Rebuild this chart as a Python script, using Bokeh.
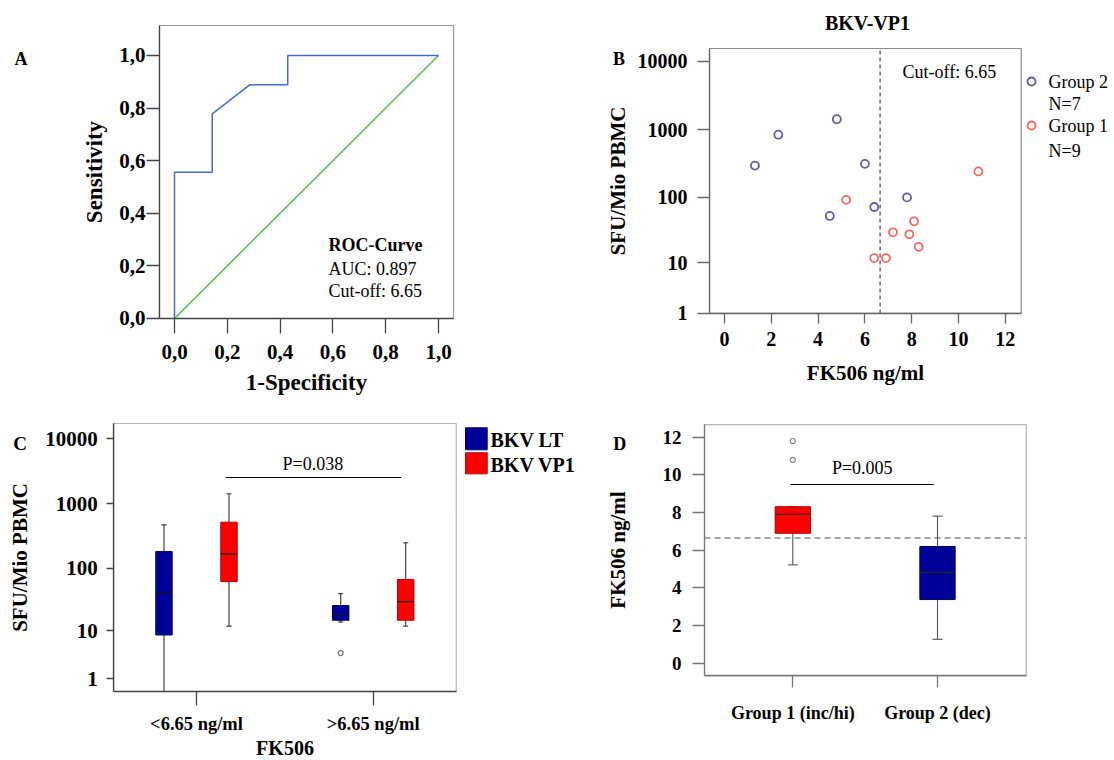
import numpy as np
from bokeh.plotting import figure
from bokeh.layouts import column, row
from bokeh.models import (Label, LinearAxis, FixedTicker, CustomJSTickFormatter,
                          BasicTickFormatter)
from bokeh.embed import file_html
from bokeh.resources import INLINE

SERIF = "Liberation Serif"

# ---------------- data ----------------
# Panel A: ROC curve
roc_fpr = [0.0, 0.0, 0.143, 0.143, 0.286, 0.429, 0.429, 1.0]
roc_tpr = [0.0, 0.556, 0.556, 0.778, 0.889, 0.889, 1.0, 1.0]
ref_x = [0.0, 1.0]
ref_y = [0.0, 1.0]
roc_ticks = [0.0, 0.2, 0.4, 0.6, 0.8, 1.0]
roc_auc = "AUC: 0.897"
cutoff = 6.65

# Panel B: BKV-VP1 scatter
g2_fk = [1.3, 2.3, 4.8, 6.0, 4.5, 6.4, 7.8]
g2_sfu = [295, 840, 1420, 313, 53, 72, 100]
g1_fk = [5.2, 10.85, 8.1, 7.2, 7.9, 8.3, 6.4, 6.9]
g1_sfu = [92, 242, 44, 30, 28, 18, 12, 12]
g1_n = 9
fk_ticks = [0, 2, 4, 6, 8, 10, 12]
sfu_ticks = [1, 10, 100, 1000, 10000]

# Panel C: box plots SFU by FK506 group
c_groups = ["<6.65 ng/ml", ">6.65 ng/ml"]
lt_low = [0, 14]
lt_q1 = [8.5, 15]
lt_med = [42, 18]
lt_q3 = [182, 26]
lt_high = [470, 40]
lt_out_group = [2]
lt_out = [4.0]
vp1_low = [12, 12]
vp1_q1 = [62, 15]
vp1_med = [168, 30]
vp1_q3 = [518, 67]
vp1_high = [1420, 249]

# Panel D: FK506 by group
d_groups = ["Group 1 (inc/hi)", "Group 2 (dec)"]
d_low = [5.22, 1.27]
d_q1 = [6.9, 3.38]
d_med = [7.91, 4.82]
d_q3 = [8.31, 6.2]
d_high = [8.31, 7.81]
d_out_group = [1, 1]
d_out = [11.8, 10.8]
d_ticks = [0, 2, 4, 6, 8, 10, 12]


def lg(v):
    return np.log10(np.asarray(v, dtype=float) + 1.0)


# ---------------- layout geometry (plot boxes and canvas ranges) ----------------
A_BOX = (-0.057, 1.057, 0.0, 1.114)
A_XR, A_YR = (-0.6591, 1.4621), (-0.3118, 1.2091)
B_BOX = (-0.64, 12.68, float(lg(1)), 4.191)
B_XR, B_YR = (-7.0085, 16.6667), (-0.978, 4.8957)
C_BOX = (0.532, 2.470, 0.106, 4.236)
C_XR, C_YR = (-0.1092, 3.2298), (-0.9569, 4.5901)
D_BOX = (0.39, 2.613, -0.67, 12.67)
D_XR, D_YR = (-0.3981, 3.2232), (-5.167, 13.951)


def make_fig(w, h, xr, yr, box, box_color):
    p = figure(width=w, height=h, x_range=xr, y_range=yr, output_backend="svg",
               toolbar_location=None, x_axis_location=None, y_axis_location=None,
               min_border_left=0, min_border_right=0, min_border_top=0, min_border_bottom=0)
    p.outline_line_color = None
    p.grid.visible = False
    p.background_fill_color = "white"
    p.border_fill_color = "white"
    l, r, b, t = box
    p.quad(left=[l], right=[r], bottom=[b], top=[t], fill_color=None,
           line_color=box_color, line_width=1.2)
    return p


def add_axis(p, side, loc, bounds, ticks, fmt, tick_size, tick_out, standoff,
             label=None, label_size="21px", label_standoff=8, color="#555555"):
    ax = LinearAxis(fixed_location=loc, bounds=bounds, ticker=FixedTicker(ticks=ticks))
    if fmt is not None:
        ax.formatter = fmt
    ax.axis_line_color = color
    ax.axis_line_width = 1.3
    ax.major_tick_line_color = color
    ax.major_tick_line_width = 1.3
    ax.minor_tick_line_color = None
    ax.major_tick_in = 0
    ax.major_tick_out = tick_out
    ax.major_label_standoff = standoff
    ax.major_label_text_font = SERIF
    ax.major_label_text_font_style = "bold"
    ax.major_label_text_font_size = tick_size
    ax.major_label_text_color = "black"
    if label:
        ax.axis_label = label
        ax.axis_label_text_font = SERIF
        ax.axis_label_text_font_style = "bold"
        ax.axis_label_text_font_size = label_size
        ax.axis_label_text_color = "black"
        ax.axis_label_standoff = label_standoff
    p.add_layout(ax, side)
    return ax


def txt(p, x, y, text, size, bold=False, align="left"):
    p.add_layout(Label(x=x, y=y, text=text, text_font=SERIF,
                       text_font_size=size,
                       text_font_style="bold" if bold else "normal",
                       text_align=align, text_baseline="middle",
                       text_color="black"))


def comma_fmt():
    return CustomJSTickFormatter(code="return tick.toFixed(1).replace('.', ',');")


def log1_fmt():
    return CustomJSTickFormatter(code="return String(Math.round(Math.pow(10, tick) - 1));")


def cat_fmt(labels):
    return CustomJSTickFormatter(args=dict(labels=labels),
                                 code="return labels[Math.round(tick) - 1];")


# ---------------- Panel A ----------------
pA = make_fig(560, 400, A_XR, A_YR, A_BOX, "#9a9a9a")
add_axis(pA, "below", A_BOX[2], (A_BOX[0], A_BOX[1]), roc_ticks, comma_fmt(), "21px", 15, 12,
         "1-Specificity", "23px", 7, color="#444444")
add_axis(pA, "left", A_BOX[0], (A_BOX[2], A_BOX[3]), roc_ticks, comma_fmt(), "21px", 13, 1,
         "Sensitivity", "23px", 9, color="#444444")
pA.line(ref_x, ref_y, line_color="#4cbf4c", line_width=1.5)
pA.line(roc_fpr, roc_tpr, line_color="#4a6cc4", line_width=1.5)
txt(pA, 0.583, 0.278, "ROC-Curve", "18px", bold=True)
txt(pA, 0.583, 0.190, roc_auc, "18px")
txt(pA, 0.583, 0.103, "Cut-off: %.2f" % cutoff, "18px")
txt(pA, -0.606, 0.985, "A", "18px", bold=True)

# ---------------- Panel B ----------------
pB = make_fig(554, 400, B_XR, B_YR, B_BOX, "#8a8a8a")
add_axis(pB, "below", B_BOX[2], (B_BOX[0], B_BOX[1]), fk_ticks, BasicTickFormatter(), "20px",
         10, 9, "FK506 ng/ml", "21px", 11, color="#666666")
add_axis(pB, "left", B_BOX[0], (B_BOX[2], B_BOX[3]), list(lg(sfu_ticks)), log1_fmt(), "20px",
         12, 10, "SFU/Mio PBMC", "21px", 5, color="#666666")
pB.segment([cutoff], [B_BOX[2]], [cutoff], [B_BOX[3]], line_color="#555555",
           line_dash="4 3", line_width=1.3)
pB.scatter(g2_fk, lg(g2_sfu), size=8, marker="circle", fill_color=None,
           line_color="#5c5ca8", line_width=1.8)
pB.scatter(g1_fk, lg(g1_sfu), size=8, marker="circle", fill_color=None,
           line_color="#f06868", line_width=1.8)
# legend (outside the plot box)
pB.scatter([13.12], [3.706], size=8, marker="circle", fill_color=None,
           line_color="#5c5ca8", line_width=1.8)
pB.scatter([13.12], [3.06], size=8, marker="circle", fill_color=None,
           line_color="#f06868", line_width=1.8)
txt(pB, 13.85, 3.706, "Group 2", "18px")
txt(pB, 13.85, 3.369, "N=%d" % len(g2_fk), "18px")
txt(pB, 13.85, 3.06, "Group 1", "18px")
txt(pB, 13.85, 2.693, "N=%d" % g1_n, "18px")
txt(pB, 7.61, 3.853, "Cut-off: %.2f" % cutoff, "18px")
txt(pB, 6.11, 4.558, "BKV-VP1", "20px", bold=True, align="center")
txt(pB, -4.76, 4.03, "B", "18px", bold=True)

# ---------------- Panel C ----------------
pC = make_fig(590, 360, C_XR, C_YR, C_BOX, "#b5b5b5")
add_axis(pC, "below", C_BOX[2], (C_BOX[0], C_BOX[1]), [1, 2], cat_fmt(c_groups), "18.5px",
         14, 8, "FK506", "20px", 0, color="#444444")
add_axis(pC, "left", C_BOX[0], (C_BOX[2], C_BOX[3]), list(lg(sfu_ticks)), log1_fmt(), "21px",
         7, 9, "SFU/Mio PBMC", "21px", 10, color="#444444")

cx = np.array([1, 2], dtype=float)
off = 0.184
bw = 0.093
cap = 0.028
series = [
    (cx - off, lt_low, lt_q1, lt_med, lt_q3, lt_high, "#000099", "#00005a"),
    (cx + off, vp1_low, vp1_q1, vp1_med, vp1_q3, vp1_high, "#ff0000", "#b00000"),
]
for xs, lo, q1, me, q3, hi, fc, lc in series:
    ylo = lg(lo)
    inside = ylo >= C_BOX[2]
    ylo_c = np.maximum(ylo, C_BOX[2])
    pC.segment(xs, lg(q3), xs, lg(hi), line_color="#333333", line_width=1.1)
    pC.segment(xs, ylo_c, xs, lg(q1), line_color="#333333", line_width=1.1)
    pC.segment(xs - cap / 2, lg(hi), xs + cap / 2, lg(hi), line_color="#333333", line_width=1.1)
    pC.segment((xs - cap / 2)[inside], ylo[inside], (xs + cap / 2)[inside], ylo[inside],
               line_color="#333333", line_width=1.1)
    pC.vbar(x=xs, top=lg(q3), bottom=lg(q1), width=bw, fill_color=fc,
            line_color=lc, line_width=1)
    pC.segment(xs - bw / 2, lg(me), xs + bw / 2, lg(me), line_color="#111111", line_width=1.2)
pC.scatter(np.array(lt_out_group, dtype=float) - off, lg(lt_out), size=5, marker="circle",
           fill_color=None, line_color="#777777", line_width=1.2)
pC.segment([1.164], [3.404], [2.158], [3.404], line_color="black", line_width=1.1)
txt(pC, 1.659, 3.615, "P=0.038", "18px", align="center")
# legend swatches (outside the plot box)
pC.quad(left=[2.5223, 2.5223], right=[2.6452, 2.6452], bottom=[3.8305, 3.4607],
        top=[4.1695, 3.7843], fill_color=["#000099", "#ff0000"],
        line_color=["#00005a", "#b00000"], line_width=1)
txt(pC, 2.6638, 3.9738, "BKV LT", "20px", bold=True)
txt(pC, 2.6638, 3.5886, "BKV VP1", "20px", bold=True)
txt(pC, -0.0374, 3.92, "C", "19px", bold=True)

# ---------------- Panel D ----------------
pD = make_fig(524, 360, D_XR, D_YR, D_BOX, "#b5b5b5")
add_axis(pD, "below", D_BOX[2], (D_BOX[0], D_BOX[1]), [1, 2], cat_fmt(d_groups), "18px",
         12, 15, None, color="#777777")
add_axis(pD, "left", D_BOX[0], (D_BOX[2], D_BOX[3]), d_ticks, BasicTickFormatter(), "19px",
         12, 11, "FK506 ng/ml", "21px", 30, color="#777777")
pD.segment([D_BOX[0]], [cutoff], [D_BOX[1]], [cutoff], line_color="#8a8a8a",
           line_dash="6 4", line_width=1.6)
dx = np.array([1, 2], dtype=float)
dbw = 0.244
dcap = 0.07
d_fill = ["#ff0000", "#000099"]
d_line = ["#b00000", "#00005a"]
pD.segment(dx, d_q3, dx, d_high, line_color="#555555", line_width=1.1)
pD.segment(dx, d_low, dx, d_q1, line_color="#555555", line_width=1.1)
pD.segment(dx - dcap / 2, d_high, dx + dcap / 2, d_high, line_color="#555555", line_width=1.1)
pD.segment(dx - dcap / 2, d_low, dx + dcap / 2, d_low, line_color="#555555", line_width=1.1)
pD.vbar(x=dx, top=d_q3, bottom=d_q1, width=dbw, fill_color=d_fill, line_color=d_line, line_width=1)
pD.segment(dx - dbw / 2, d_med, dx + dbw / 2, d_med, line_color="#222222", line_width=1.2)
pD.scatter(d_out_group, d_out, size=5, marker="circle", fill_color=None,
           line_color="#888888", line_width=1.2)
pD.segment([0.984], [9.49], [1.974], [9.49], line_color="black", line_width=1.1)
txt(pD, 1.48, 10.37, "P=0.005", "18px", align="center")
txt(pD, -0.241, 11.64, "D", "18px", bold=True)

layout = column(row(pA, pB), row(pC, pD))
open("out.html", "w").write(file_html(layout, INLINE))
